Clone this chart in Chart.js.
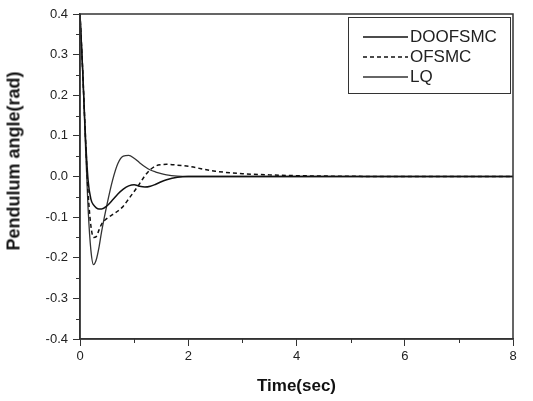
<!DOCTYPE html>
<html>
<head>
<meta charset="utf-8">
<script src="https://cdn.jsdelivr.net/npm/chart.js@4/dist/chart.umd.min.js"></script>
<style>
  html, body { margin: 0; padding: 0; background: #fff; }
  #wrap { position: relative; width: 533px; height: 401px; }
  #legend {
    position: absolute; left: 348px; top: 17px; width: 161px; height: 75px;
    border: 1px solid #333; font: 17px "Liberation Sans", Arial, sans-serif; color: #222;
  }
  #legend .row { position: absolute; left: 14px; height: 18px; display: flex; align-items: center; }
  #legend svg { margin-right: 2px; }
  #ytitle {
    position: absolute; left: 14px; top: 161px; transform: translate(-50%, -50%) rotate(-90deg);
    white-space: nowrap; font: bold 18px "Liberation Sans", Arial, sans-serif; color: #111;
  }
</style>
</head>
<body>
<div id="wrap">
  <canvas id="c" width="533" height="401"></canvas>
  <div id="legend"></div>
  <div id="ytitle">Pendulum angle(rad)</div>
</div>
<script>
// time axis (sec) and pendulum angle (rad) for each controller
const time    = [0, 0.05, 0.1, 0.15, 0.2, 0.25, 0.3, 0.35, 0.4, 0.5, 0.6, 0.7, 0.8, 0.9, 1.0, 1.1, 1.2, 1.3, 1.4, 1.5, 1.6, 1.8, 2.0, 2.5, 3.0, 3.5, 4.0, 5.0, 6.0, 7.0, 8.0];
const doofsmc = [0.4, 0.26, 0.1, -0.01, -0.055, -0.07, -0.077, -0.08, -0.08, -0.072, -0.058, -0.043, -0.031, -0.023, -0.02, -0.024, -0.026, -0.024, -0.019, -0.013, -0.008, -0.002, 0, 0, 0, 0, 0, 0, 0, 0, 0];
const ofsmc   = [0.4, 0.26, 0.1, -0.04, -0.12, -0.15, -0.148, -0.132, -0.117, -0.103, -0.094, -0.085, -0.073, -0.055, -0.037, -0.018, 0.002, 0.017, 0.026, 0.029, 0.03, 0.028, 0.025, 0.013, 0.007, 0.004, 0.002, 0.0005, 0, 0, 0];
const lq      = [0.4, 0.26, 0.08, -0.08, -0.18, -0.217, -0.205, -0.175, -0.135, -0.068, -0.01, 0.032, 0.05, 0.052, 0.045, 0.034, 0.024, 0.016, 0.011, 0.007, 0.004, 0.001, 0, 0, 0, 0, 0, 0, 0, 0, 0];

const xTicks = [0, 2, 4, 6, 8];
const xMinor = [1, 3, 5, 7];
const yTicks = [-0.4, -0.3, -0.2, -0.1, 0, 0.1, 0.2, 0.3, 0.4];
const yMinor = [-0.35, -0.25, -0.15, -0.05, 0.05, 0.15, 0.25, 0.35];

const axisColor = '#333';
const font = "'Liberation Sans', Arial, sans-serif";

const toPts = ys => time.map((t, i) => ({ x: t, y: ys[i] }));

// box frame + short minor ticks
const framePlugin = {
  id: 'frame',
  afterDraw(chart) {
    const { ctx, chartArea: a, scales } = chart;
    ctx.save();
    ctx.strokeStyle = axisColor;
    ctx.lineWidth = 1.5;
    ctx.strokeRect(a.left, a.top, a.right - a.left, a.bottom - a.top);
    ctx.lineWidth = 1;
    ctx.beginPath();
    xMinor.forEach(v => {
      const px = Math.round(scales.x.getPixelForValue(v)) + 0.5;
      ctx.moveTo(px, a.bottom); ctx.lineTo(px, a.bottom + 4);
    });
    yMinor.forEach(v => {
      const py = Math.round(scales.y.getPixelForValue(v)) + 0.5;
      ctx.moveTo(a.left - 4, py); ctx.lineTo(a.left, py);
    });
    ctx.stroke();
    ctx.restore();
  }
};

const datasets = [
  { label: 'DOOFSMC', data: toPts(doofsmc), borderColor: '#111', borderWidth: 1.5 },
  { label: 'OFSMC', data: toPts(ofsmc), borderColor: '#111', borderWidth: 1.5, borderDash: [4, 3] },
  { label: 'LQ', data: toPts(lq), borderColor: '#333', borderWidth: 1.3 }
];

new Chart(document.getElementById('c'), {
  type: 'line',
  data: { datasets },
  options: {
    responsive: false,
    animation: false,
    layout: { padding: { top: 14, right: 20, left: 0, bottom: 0 } },
    elements: { point: { radius: 0 }, line: { cubicInterpolationMode: 'monotone', fill: false } },
    plugins: { legend: { display: false }, tooltip: { enabled: false } },
    scales: {
      x: {
        type: 'linear', min: 0, max: 8,
        afterBuildTicks: s => { s.ticks = xTicks.map(v => ({ value: v })); },
        afterFit: s => { s.height = 62; },
        ticks: { autoSkip: false, maxRotation: 0, color: '#222', font: { family: font, size: 13 }, padding: 3 },
        grid: { drawOnChartArea: false, tickLength: 7, color: axisColor, lineWidth: 1 },
        border: { color: axisColor, width: 1.5 },
        title: { display: true, text: 'Time(sec)', color: '#111', font: { family: font, size: 17, weight: 'bold' }, padding: { top: 0, bottom: 4 } }
      },
      y: {
        min: -0.4, max: 0.4,
        afterBuildTicks: s => { s.ticks = yTicks.map(v => ({ value: v })); },
        afterFit: s => { s.width = 80; },
        ticks: { autoSkip: false, color: '#222', font: { family: font, size: 13 }, padding: 5, callback: v => v.toFixed(1) },
        grid: { drawOnChartArea: false, tickLength: 7, color: axisColor, lineWidth: 1 },
        border: { color: axisColor, width: 1.5 },
        title: { display: false }
      }
    }
  },
  plugins: [framePlugin]
});

// legend box inside the plot, built from the datasets
const legend = document.getElementById('legend');
datasets.forEach((ds, i) => {
  const row = document.createElement('div');
  row.className = 'row';
  row.style.top = (10 + i * 20) + 'px';
  const dash = ds.borderDash ? ds.borderDash.join(' ') : 'none';
  row.innerHTML = '<svg width="45" height="6"><line x1="0" y1="3" x2="45" y2="3" stroke="' + ds.borderColor +
    '" stroke-width="' + ds.borderWidth + '" stroke-dasharray="' + dash + '"/></svg><span>' + ds.label + '</span>';
  legend.appendChild(row);
});
</script>
</body>
</html>
